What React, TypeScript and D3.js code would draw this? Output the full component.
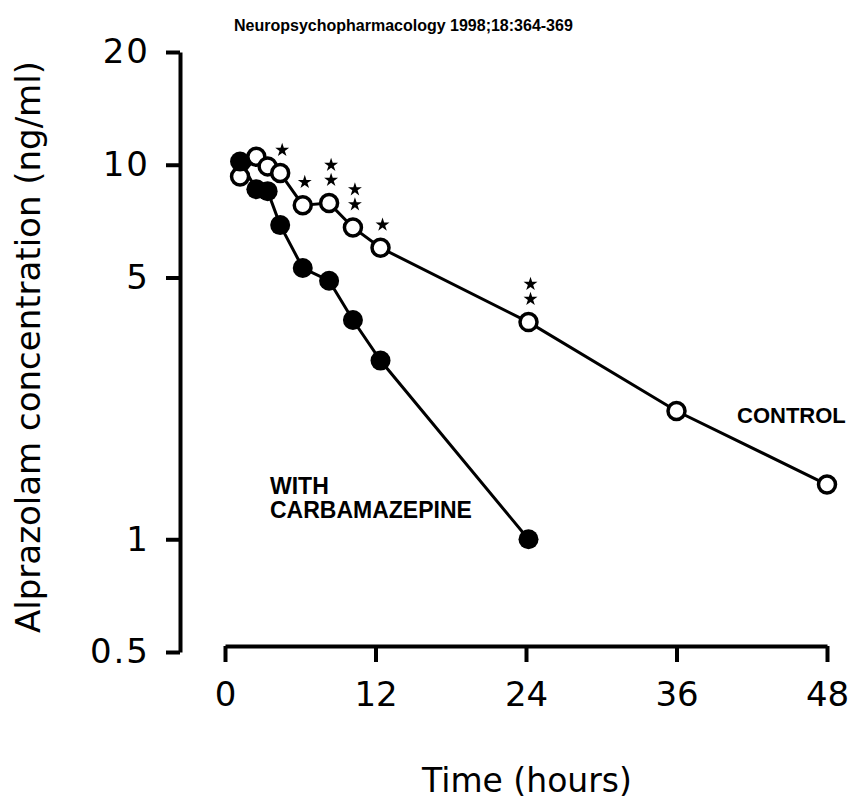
import React, { useRef, useEffect } from 'react';
import * as d3 from 'd3';

// hours after dose (shared sampling times)
const TIMES = [1.2, 2.5, 3.4, 4.4, 6.2, 8.3, 10.2, 12.4, 24.2, 36, 48];
// alprazolam ng/ml
const CONTROL = [9.3, 10.5, 9.9, 9.5, 7.8, 7.9, 6.8, 6.0, 3.8, 2.2, 1.4];
const WITH_CARBAMAZEPINE = [10.2, 8.6, 8.5, 6.9, 5.3, 4.9, 3.85, 3.0, 1.0];
// number of asterisks over each control point
const SIGNIFICANCE = [0, 0, 0, 1, 1, 2, 2, 1, 2, 0, 0];

const X_TICKS = [0, 12, 24, 36, 48];
const Y_TICKS = [0.5, 1, 5, 10, 20];

const WIDTH = 848;
const HEIGHT = 808;

const AXIS_FONT = '"DejaVu Sans", sans-serif';
const BOLD_FONT = '"Liberation Sans", Arial, sans-serif';

const App = () => {
  const svgRef = useRef<SVGSVGElement>(null);

  useEffect(() => {
    const svg = d3.select(svgRef.current);
    svg.selectAll('*').remove();

    const xScale = d3.scaleLinear().domain([0, 48]).range([225, 827]);
    const yScale = d3.scaleLog().domain([0.5, 20]).range([652, 52]);

    // y axis
    const yAxis = svg
      .append('g')
      .attr('transform', 'translate(180,0)')
      .call(
        d3
          .axisLeft(yScale)
          .tickValues(Y_TICKS)
          .tickFormat(d => String(d))
          .tickSize(14)
          .tickSizeOuter(0)
          .tickPadding(16)
      );

    // x axis
    const xAxis = svg
      .append('g')
      .attr('transform', 'translate(0,646)')
      .call(
        d3
          .axisBottom(xScale)
          .tickValues(X_TICKS)
          .tickFormat(d => String(d))
          .tickSize(16)
          .tickSizeOuter(0)
          .tickPadding(20)
      );

    [yAxis, xAxis].forEach(g => {
      g.select('.domain').attr('stroke', '#000').attr('stroke-width', 4);
      g.selectAll('.tick line').attr('stroke', '#000').attr('stroke-width', 4);
      g.selectAll('.tick text')
        .attr('fill', '#000')
        .style('font-family', AXIS_FONT)
        .style('font-size', '34px');
    });
    yAxis.selectAll('.tick text').style('letter-spacing', '2px');

    // connecting lines
    const lineGen = d3
      .line<number>()
      .x((d, i) => xScale(TIMES[i]))
      .y(d => yScale(d));

    svg
      .append('path')
      .datum(CONTROL)
      .attr('d', lineGen)
      .attr('fill', 'none')
      .attr('stroke', '#000')
      .attr('stroke-width', 3);

    svg
      .append('path')
      .datum(WITH_CARBAMAZEPINE)
      .attr('d', lineGen)
      .attr('fill', 'none')
      .attr('stroke', '#000')
      .attr('stroke-width', 3);

    // open circles (control)
    svg
      .append('g')
      .selectAll('circle')
      .data(CONTROL)
      .join('circle')
      .attr('cx', (d, i) => xScale(TIMES[i]))
      .attr('cy', d => yScale(d))
      .attr('r', 8.5)
      .attr('fill', '#fff')
      .attr('stroke', '#000')
      .attr('stroke-width', 3.5);

    // filled circles (with carbamazepine)
    svg
      .append('g')
      .selectAll('circle')
      .data(WITH_CARBAMAZEPINE)
      .join('circle')
      .attr('cx', (d, i) => xScale(TIMES[i]))
      .attr('cy', d => yScale(d))
      .attr('r', 10)
      .attr('fill', '#000');

    // significance asterisks
    const star = d3.symbol().type(d3.symbolStar).size(60);
    const stars: { t: number; v: number; k: number }[] = [];
    SIGNIFICANCE.forEach((n, i) => {
      for (let k = 0; k < n; k++) stars.push({ t: TIMES[i], v: CONTROL[i], k });
    });
    svg
      .append('g')
      .selectAll('path')
      .data(stars)
      .join('path')
      .attr('d', star)
      .attr(
        'transform',
        d => `translate(${xScale(d.t) + 2},${yScale(d.v) - 23 - d.k * 15})`
      )
      .attr('fill', '#000');

    // labels
    svg
      .append('text')
      .attr('x', 234)
      .attr('y', 31)
      .style('font-family', BOLD_FONT)
      .style('font-weight', 'bold')
      .style('font-size', '16px')
      .text('Neuropsychopharmacology 1998;18:364-369');

    svg
      .append('text')
      .attr('x', 737)
      .attr('y', 423)
      .style('font-family', BOLD_FONT)
      .style('font-weight', 'bold')
      .style('font-size', '22px')
      .text('CONTROL');

    const carbLabel = svg
      .append('text')
      .attr('x', 270)
      .attr('y', 494)
      .style('font-family', BOLD_FONT)
      .style('font-weight', 'bold')
      .style('font-size', '23px');
    carbLabel.append('tspan').attr('x', 270).text('WITH');
    carbLabel.append('tspan').attr('x', 270).attr('dy', 24).text('CARBAMAZEPINE');

    svg
      .append('text')
      .attr('x', 527)
      .attr('y', 792)
      .attr('text-anchor', 'middle')
      .style('font-family', AXIS_FONT)
      .style('font-size', '33px')
      .text('Time (hours)');

    svg
      .append('text')
      .attr('transform', 'translate(40,347) rotate(-90)')
      .attr('text-anchor', 'middle')
      .style('font-family', AXIS_FONT)
      .style('font-size', '34px')
      .text('Alprazolam concentration (ng/ml)');
  }, []);

  return (
    <svg
      ref={svgRef}
      width={WIDTH}
      height={HEIGHT}
      style={{ position: 'absolute', left: 0, top: 0, background: '#fff' }}
    />
  );
};

export default App;
